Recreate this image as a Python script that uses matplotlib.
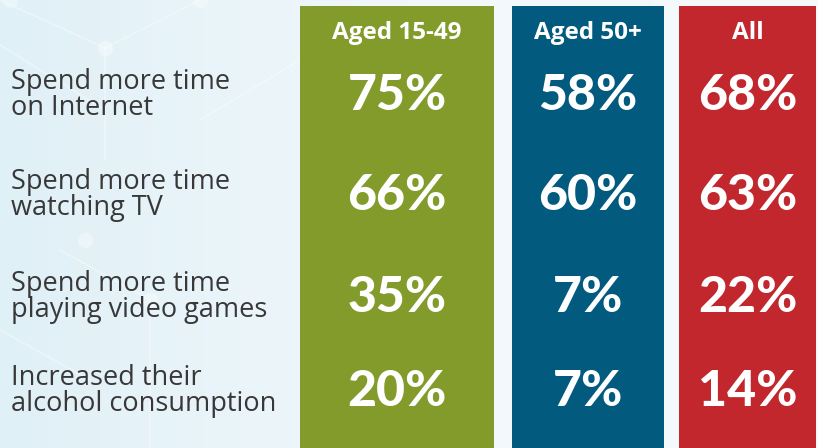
import numpy as np
import matplotlib.pyplot as plt
from matplotlib.colors import LinearSegmentedColormap

# data
groups = ['Aged 15-49', 'Aged 50+', 'All']
activities = ['Spend more time\non Internet',
              'Spend more time\nwatching TV',
              'Spend more time\nplaying video games',
              'Increased their\nalcohol consumption']
aged_15_49 = [75, 66, 35, 20]
aged_50_plus = [58, 60, 7, 7]
all_ages = [68, 63, 22, 14]

colors = ['#829B2B', '#025B7E', '#C1272D']
col_left = [300, 512, 679]
col_right = [494, 664, 816]
row_y = [95, 195, 297, 391]

fig = plt.figure(figsize=(8.18, 4.48), dpi=100)
ax = fig.add_axes([0, 0, 1, 1])
ax.set_xlim(0, 818)
ax.set_ylim(448, 0)
ax.axis('off')

# light blue gradient background
grad = np.linspace(0, 1, 256).reshape(1, -1)
bg = LinearSegmentedColormap.from_list('bg', ['#E0F0F7', '#F1F8FB', '#F6FAFC'])
ax.imshow(grad, cmap=bg, extent=[0, 818, 448, 0], aspect='auto', zorder=0)

# faint network lines in the background
for (x0, y0, x1, y1) in [(0, 0, 105, 48), (105, 48, 200, 0), (0, 45, 105, 110),
                         (105, 48, 105, 160), (60, 250, 150, 300), (150, 300, 150, 448),
                         (200, 120, 300, 60), (0, 330, 90, 380)]:
    ax.plot([x0, x1], [y0, y1], color='white', alpha=0.35, lw=1.2, zorder=1)
for (cx, cy) in [(105, 48), (10, 0), (200, 0), (150, 300), (85, 240)]:
    ax.scatter(cx, cy, s=120, color='white', alpha=0.35, lw=0, zorder=1)

values = [aged_15_49, aged_50_plus, all_ages]
for g, name in enumerate(groups):
    w = col_right[g] - col_left[g]
    ax.bar(col_left[g] + w / 2, 448 - 6, width=w, bottom=6, color=colors[g], zorder=2)
    cx = col_left[g] + w / 2
    ax.text(cx, 33, name, ha='center', va='center', color='white',
            fontsize=17.5, fontweight='bold', family='Open Sans', zorder=3)
    for r, v in enumerate(values[g]):
        ax.text(cx, row_y[r], f'{v}%', ha='center', va='center', color='white',
                fontsize=36, fontweight='black', family='Lato', zorder=3)

for r, lab in enumerate(activities):
    ax.text(11, row_y[r], lab, ha='left', va='center', color='#383838',
            fontsize=19.5, family='Open Sans', linespacing=0.92, zorder=3)

fig.savefig('out.png', dpi=100)
